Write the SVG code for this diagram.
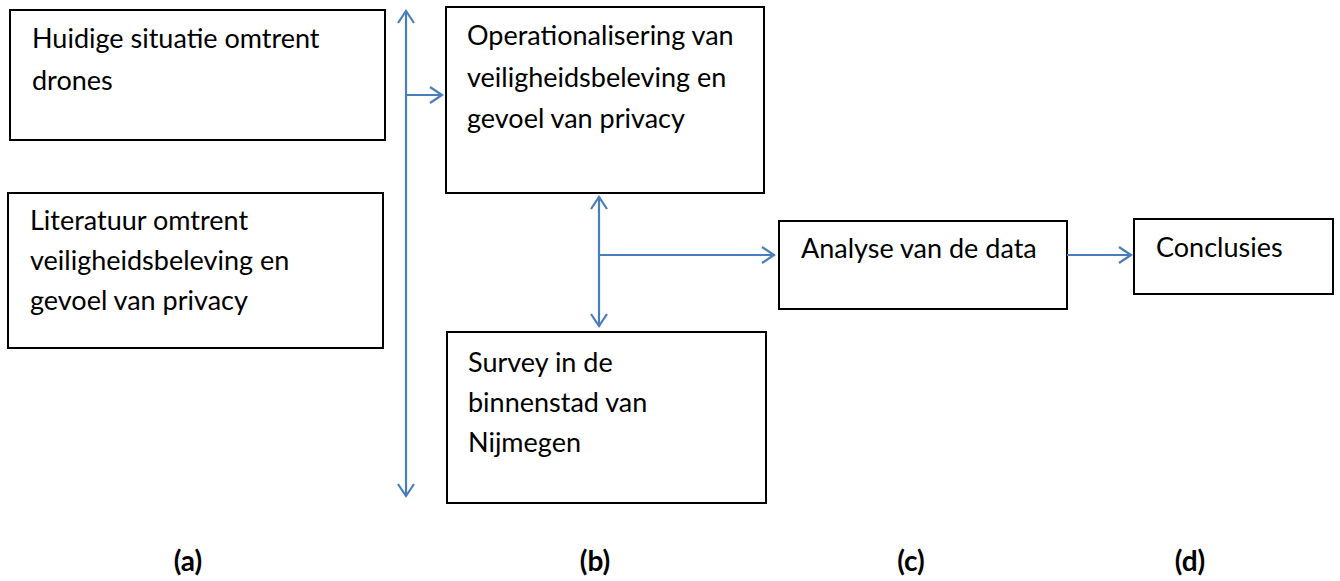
<svg xmlns="http://www.w3.org/2000/svg" width="1340" height="581" viewBox="0 0 1340 581">
<style>
.box{fill:#fff;stroke:#000;stroke-width:2}
.t{font-family:Lato,"Liberation Sans",sans-serif;font-size:27px;fill:#000}
.lbl{font-family:Lato,"Liberation Sans",sans-serif;font-size:28px;font-weight:bold;fill:#000;text-anchor:middle}
.c{fill:none;stroke:#4A7EBB;stroke-width:2.2}
</style>
<defs>
<marker id="ah" markerUnits="userSpaceOnUse" viewBox="-14 -10 16 20" refX="0" refY="0" markerWidth="16" markerHeight="20" orient="auto-start-reverse">
<path d="M-12,-8 L0,0 L-12,8" fill="none" stroke="#4A7EBB" stroke-width="2.2"/>
</marker>
</defs>
<rect width="1340" height="581" fill="#fff"/>
<g id="n1"><rect class="box" x="10" y="10" width="375" height="130"/>
<text class="t" x="32" y="48">Huidige situatie omtrent</text>
<text class="t" x="32" y="90">drones</text></g>
<g id="n2"><rect class="box" x="8" y="193" width="375" height="155"/>
<text class="t" x="30" y="230">Literatuur omtrent</text>
<text class="t" x="30" y="270">veiligheidsbeleving en</text>
<text class="t" x="30" y="310">gevoel van privacy</text></g>
<g id="n3"><rect class="box" x="446" y="7" width="318" height="186"/>
<text class="t" x="467" y="45">Operationalisering van</text>
<text class="t" x="467" y="87">veiligheidsbeleving en</text>
<text class="t" x="467" y="128">gevoel van privacy</text></g>
<g id="n4"><rect class="box" x="447" y="332" width="319" height="171"/>
<text class="t" x="468" y="372">Survey in de</text>
<text class="t" x="468" y="412">binnenstad van</text>
<text class="t" x="468" y="452">Nijmegen</text></g>
<g id="n5"><rect class="box" x="779" y="221" width="288" height="88"/>
<text class="t" x="801" y="258">Analyse van de data</text></g>
<g id="n6"><rect class="box" x="1134" y="219" width="199" height="75"/>
<text class="t" x="1156" y="257">Conclusies</text></g>
<g id="connectors">
<line class="c" x1="406" y1="11" x2="406" y2="496" marker-start="url(#ah)" marker-end="url(#ah)"/>
<line class="c" x1="405" y1="95" x2="442" y2="95" marker-end="url(#ah)"/>
<line class="c" x1="599" y1="197" x2="599" y2="326" marker-start="url(#ah)" marker-end="url(#ah)"/>
<line class="c" x1="599" y1="255" x2="774" y2="255" marker-end="url(#ah)"/>
<line class="c" x1="1067" y1="255" x2="1131" y2="255" marker-end="url(#ah)"/>
</g>
<g id="labels">
<text class="lbl" x="188" y="571">(a)</text>
<text class="lbl" x="595" y="571">(b)</text>
<text class="lbl" x="911" y="571">(c)</text>
<text class="lbl" x="1190" y="571">(d)</text>
</g>
</svg>
